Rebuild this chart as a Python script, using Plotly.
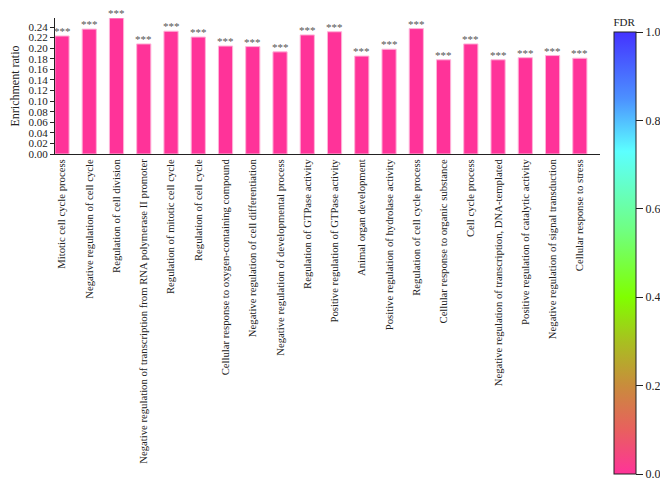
import plotly.graph_objects as go

categories = [
    "Mitotic cell cycle process",
    "Negative regulation of cell cycle",
    "Regulation of cell division",
    "Negative regulation of transcription from RNA polymerase II promoter",
    "Regulation of mitotic cell cycle",
    "Regulation of cell cycle",
    "Cellular response to oxygen-containing compound",
    "Negative regulation of cell differentiation",
    "Negative regulation of developmental process",
    "Regulation of GTPase activity",
    "Positive regulation of GTPase activity",
    "Animal organ development",
    "Positive regulation of hydrolase activity",
    "Regulation of cell cycle process",
    "Cellular response to organic substance",
    "Cell cycle process",
    "Negative regulation of transcription, DNA-templated",
    "Positive regulation of catalytic activity",
    "Negative regulation of signal transduction",
    "Cellular response to stress",
]
enrichment = [0.223, 0.236, 0.257, 0.208, 0.232, 0.221, 0.204, 0.203, 0.193, 0.225,
              0.231, 0.185, 0.198, 0.237, 0.178, 0.208, 0.178, 0.182, 0.186, 0.181]
fdr = [0.0] * len(categories)
signif = ["***"] * len(categories)

ytick_vals = [i * 0.02 for i in range(13)]
cbar_ticks = [0.0, 0.2, 0.4, 0.6, 0.8, 1.0]

colorscale = [
    [0.0, "#FF3399"],
    [0.1, "#E8605E"],
    [0.2, "#C98C3C"],
    [0.3, "#A8C020"],
    [0.4, "#80FF00"],
    [0.55, "#70FF80"],
    [0.73, "#5CFFFF"],
    [0.85, "#4C90FF"],
    [1.0, "#4433FF"],
]

FONT = "Liberation Serif"

fig = go.Figure()
fig.add_trace(go.Bar(
    x=categories,
    y=enrichment,
    width=0.52,
    marker=dict(
        color=fdr,
        cmin=0, cmax=1,
        colorscale=colorscale,
        line=dict(color="#FFB3D9", width=1),
        colorbar=dict(
            title=dict(text="FDR", side="top", font=dict(family=FONT, size=11, color="#222")),
            thickness=22,
            thicknessmode="pixels",
            len=459,
            lenmode="pixels",
            x=1.0257,
            xanchor="left",
            y=1.022,
            yanchor="top",
            xpad=0,
            ypad=0,
            outlinewidth=1,
            outlinecolor="#222",
            tickvals=cbar_ticks,
            tickformat=".1f",
            ticks="outside",
            ticklen=7,
            tickcolor="#222",
            tickfont=dict(family=FONT, size=12, color="#222"),
        ),
    ),
    showlegend=False,
    hoverinfo="x+y",
))

for cat, val, s in zip(categories, enrichment, signif):
    fig.add_annotation(
        x=cat, y=val, text=s, showarrow=False,
        xref="x", yref="y", yanchor="middle", yshift=5,
        font=dict(family=FONT, size=11, color="#555555"),
    )

fig.update_layout(
    width=660,
    height=477,
    margin=dict(l=47, r=68, t=10, b=331, autoexpand=False),
    paper_bgcolor="white",
    plot_bgcolor="white",
    font=dict(family=FONT, color="#222"),
    xaxis=dict(
        range=[-0.257, 19.74],
        tickangle=-90,
        showline=True,
        linecolor="#222",
        linewidth=1,
        ticks="",
        showgrid=False,
        automargin=False,
        tickfont=dict(family=FONT, size=10.7, color="#222"),
    ),
    yaxis=dict(
        range=[0, 0.257],
        tickvals=ytick_vals,
        tickformat=".2f",
        showline=True,
        linecolor="#222",
        linewidth=1,
        ticks="outside",
        ticklen=4,
        tickcolor="#222",
        showgrid=False,
        zeroline=False,
        automargin=False,
        tickfont=dict(family=FONT, size=11, color="#222"),
        title=dict(text="Enrichment ratio", font=dict(family=FONT, size=12, color="#222"), standoff=6),
    ),
    bargap=0.48,
)

fig.write_html("out.html")
